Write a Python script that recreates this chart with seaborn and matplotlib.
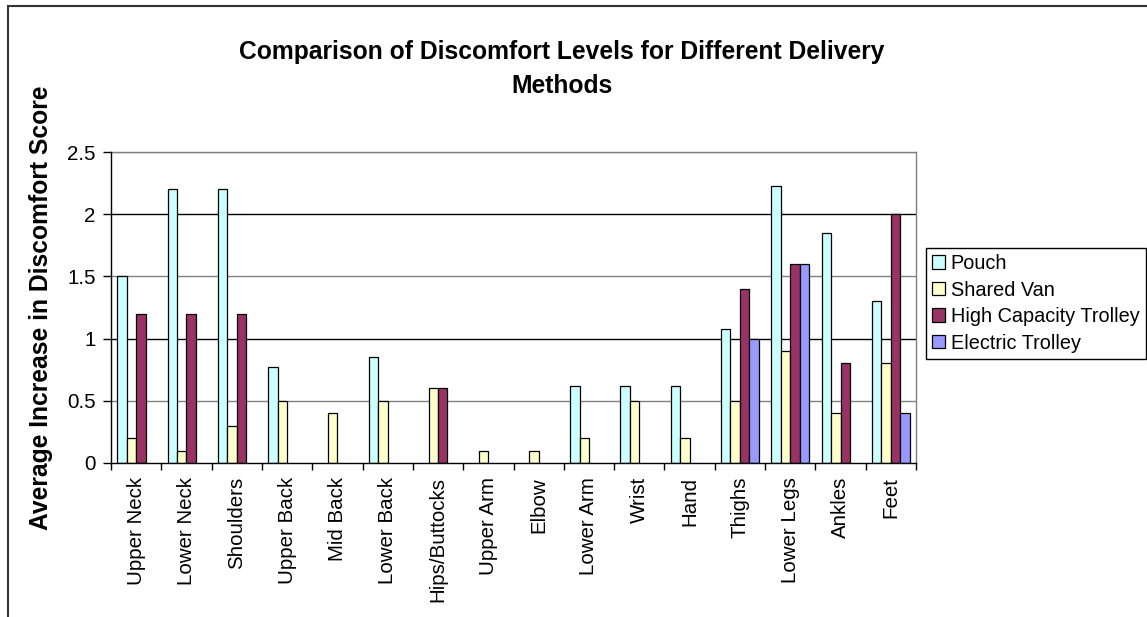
import numpy as np
import pandas as pd
import matplotlib
matplotlib.use("Agg")
import matplotlib.pyplot as plt
from matplotlib.patches import Rectangle, Patch
import seaborn as sns

# Body regions and mean increase in discomfort score per delivery method
regions = ["Upper Neck", "Lower Neck", "Shoulders", "Upper Back", "Mid Back",
           "Lower Back", "Hips/Buttocks", "Upper Arm", "Elbow", "Lower Arm",
           "Wrist", "Hand", "Thighs", "Lower Legs", "Ankles", "Feet"]
methods = ["Pouch", "Shared Van", "High Capacity Trolley", "Electric Trolley"]

pouch = [1.5, 2.2, 2.2, 0.77, None, 0.85, None, None, None, 0.62,
         0.62, 0.62, 1.08, 2.23, 1.85, 1.3]
shared_van = [0.2, 0.1, 0.3, 0.5, 0.4, 0.5, 0.6, 0.1, 0.1, 0.2,
              0.5, 0.2, 0.5, 0.9, 0.4, 0.8]
high_capacity = [1.2, 1.2, 1.2, None, None, None, 0.6, None, None, None,
                 None, None, 1.4, 1.6, 0.8, 2.0]
electric = [None, None, None, None, None, None, None, None, None, None,
            None, None, 1.0, 1.6, None, 0.4]

colors = ["#CCFFFF", "#FFFFCC", "#993366", "#9999FF"]
y_ticks = [0, 0.5, 1, 1.5, 2, 2.5]
y_tick_labels = ["0", "0.5", "1", "1.5", "2", "2.5"]

rows = []
for method, series in zip(methods, [pouch, shared_van, high_capacity, electric]):
    for region, value in zip(regions, series):
        if value is not None:
            rows.append({"Region": region, "Method": method, "Score": value})
df = pd.DataFrame(rows)

sns.set_theme(style="white")
plt.rcParams["font.family"] = ["Liberation Sans", "DejaVu Sans"]
plt.rcParams["text.color"] = "black"
plt.rcParams["axes.labelcolor"] = "black"
plt.rcParams["xtick.color"] = "black"
plt.rcParams["ytick.color"] = "black"

fig = plt.figure(figsize=(11.47, 6.17), dpi=100)
ax = fig.add_axes([111 / 1147, 1 - 463 / 617, (916 - 111) / 1147, (463 - 152) / 617])

sns.barplot(data=df, x="Region", y="Score", hue="Method", order=regions,
            hue_order=methods, palette=colors, width=0.75, errorbar=None,
            edgecolor="black", linewidth=0.9, saturation=1, ax=ax, zorder=3)

ax.set_xlim(-0.5, len(regions) - 0.5)
ax.set_ylim(0, 2.5)
ax.set_yticks(y_ticks)
ax.set_yticklabels(y_tick_labels)
ax.set_xlabel("")
ax.set_ylabel("")

# horizontal gridlines behind the bars
for y in y_ticks[1:]:
    ax.axhline(y, color="#000000" if y in (1, 2) else "#808080",
               linewidth=1.0, zorder=1)

# category separators as outward ticks
ax.set_xticks(np.arange(-0.5, len(regions) + 0.5, 1), minor=True)
ax.tick_params(axis="x", which="major", length=0, pad=10, labelsize=14.8,
               labelrotation=90, labelcolor="black")
ax.tick_params(axis="x", which="minor", length=5, width=1, color="black",
               direction="out", bottom=True)
ax.tick_params(axis="y", which="major", length=6, width=1, color="black",
               direction="out", left=True, pad=5, labelsize=14.8,
               labelcolor="black")

for side in ("left", "bottom"):
    ax.spines[side].set_color("black")
    ax.spines[side].set_linewidth(1.0)
for side in ("top", "right"):
    ax.spines[side].set_color("#808080")
    ax.spines[side].set_linewidth(1.0)
ax.spines["left"].set_zorder(4)
ax.spines["bottom"].set_zorder(4)

if ax.legend_ is not None:
    ax.legend_.remove()
handles = [Patch(facecolor=c, edgecolor="black", linewidth=0.9) for c in colors]
leg = fig.legend(handles, methods, loc="upper left",
                 bbox_to_anchor=(926 / 1147, 1 - 248 / 617),
                 frameon=True, fancybox=False, framealpha=1,
                 edgecolor="black", fontsize=14.3, handlelength=0.65,
                 handleheight=0.65, handletextpad=0.3, labelspacing=0.38,
                 borderpad=0.3, borderaxespad=0)
leg.get_frame().set_linewidth(1.0)
for t in leg.get_texts():
    t.set_color("black")

fig.text(562 / 1147, 1 - 69 / 617,
         "Comparison of Discomfort Levels for Different Delivery\nMethods",
         ha="center", va="center", fontsize=17.7, fontweight="bold",
         linespacing=1.55, color="black")
fig.text(41 / 1147, 1 - 308 / 617, "Average Increase in Discomfort Score",
         ha="center", va="center", rotation=90, fontsize=17.7,
         fontweight="bold", color="black")

# chart area border
fig.patches.append(Rectangle((8 / 1147, -0.1), 2.0, (617 - 6) / 617 + 0.1,
                             transform=fig.transFigure, fill=False,
                             edgecolor="#333333", linewidth=1.5))

fig.savefig("out.png", dpi=100, facecolor="white")
